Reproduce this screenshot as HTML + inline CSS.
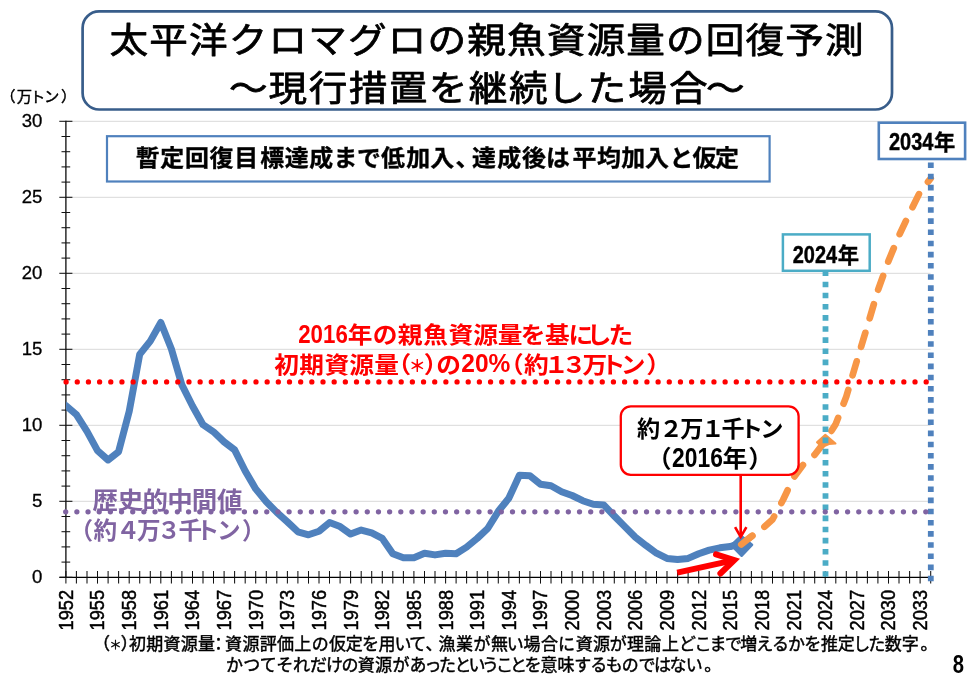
<!DOCTYPE html>
<html lang="ja">
<head>
<meta charset="utf-8">
<title>太平洋クロマグロの親魚資源量の回復予測</title>
<style>
html,body{margin:0;padding:0;background:#fff;}
body{width:974px;height:679px;overflow:hidden;}
svg{display:block;}
text{font-family:"Liberation Sans","Noto Sans CJK JP",sans-serif;}
</style>
</head>
<body>
<svg width="974" height="679" viewBox="0 0 974 679">
<rect x="0" y="0" width="974" height="679" fill="#ffffff"/>

<g stroke="#d9d9d9" stroke-width="1" fill="none">
<line x1="66" y1="501.3" x2="930.5" y2="501.3"/>
<line x1="66" y1="425.3" x2="930.5" y2="425.3"/>
<line x1="66" y1="349.3" x2="930.5" y2="349.3"/>
<line x1="66" y1="273.3" x2="930.5" y2="273.3"/>
<line x1="66" y1="197.3" x2="930.5" y2="197.3"/>
<line x1="66" y1="121.3" x2="930.5" y2="121.3"/>
</g>
<g stroke="#000" stroke-width="1.25" fill="none">
<line x1="65.9" y1="120.8" x2="65.9" y2="577.8"/>
<line x1="59.5" y1="577.3" x2="931" y2="577.3"/>
</g>
<g stroke="#111" stroke-width="1.05" fill="none">
<line x1="59.3" y1="577.3" x2="72.4" y2="577.3"/>
<line x1="61.5" y1="562.1" x2="70.2" y2="562.1"/>
<line x1="61.5" y1="546.9" x2="70.2" y2="546.9"/>
<line x1="61.5" y1="531.7" x2="70.2" y2="531.7"/>
<line x1="61.5" y1="516.5" x2="70.2" y2="516.5"/>
<line x1="59.3" y1="501.3" x2="72.4" y2="501.3"/>
<line x1="61.5" y1="486.1" x2="70.2" y2="486.1"/>
<line x1="61.5" y1="470.9" x2="70.2" y2="470.9"/>
<line x1="61.5" y1="455.7" x2="70.2" y2="455.7"/>
<line x1="61.5" y1="440.5" x2="70.2" y2="440.5"/>
<line x1="59.3" y1="425.3" x2="72.4" y2="425.3"/>
<line x1="61.5" y1="410.1" x2="70.2" y2="410.1"/>
<line x1="61.5" y1="394.9" x2="70.2" y2="394.9"/>
<line x1="61.5" y1="379.7" x2="70.2" y2="379.7"/>
<line x1="61.5" y1="364.5" x2="70.2" y2="364.5"/>
<line x1="59.3" y1="349.3" x2="72.4" y2="349.3"/>
<line x1="61.5" y1="334.1" x2="70.2" y2="334.1"/>
<line x1="61.5" y1="318.9" x2="70.2" y2="318.9"/>
<line x1="61.5" y1="303.7" x2="70.2" y2="303.7"/>
<line x1="61.5" y1="288.5" x2="70.2" y2="288.5"/>
<line x1="59.3" y1="273.3" x2="72.4" y2="273.3"/>
<line x1="61.5" y1="258.1" x2="70.2" y2="258.1"/>
<line x1="61.5" y1="242.9" x2="70.2" y2="242.9"/>
<line x1="61.5" y1="227.7" x2="70.2" y2="227.7"/>
<line x1="61.5" y1="212.5" x2="70.2" y2="212.5"/>
<line x1="59.3" y1="197.3" x2="72.4" y2="197.3"/>
<line x1="61.5" y1="182.1" x2="70.2" y2="182.1"/>
<line x1="61.5" y1="166.9" x2="70.2" y2="166.9"/>
<line x1="61.5" y1="151.7" x2="70.2" y2="151.7"/>
<line x1="61.5" y1="136.5" x2="70.2" y2="136.5"/>
<line x1="59.3" y1="121.3" x2="72.4" y2="121.3"/>
<line x1="65.9" y1="571" x2="65.9" y2="583.6"/>
<line x1="76.4" y1="571" x2="76.4" y2="583.6"/>
<line x1="87.0" y1="571" x2="87.0" y2="583.6"/>
<line x1="97.5" y1="571" x2="97.5" y2="583.6"/>
<line x1="108.1" y1="571" x2="108.1" y2="583.6"/>
<line x1="118.6" y1="571" x2="118.6" y2="583.6"/>
<line x1="129.2" y1="571" x2="129.2" y2="583.6"/>
<line x1="139.7" y1="571" x2="139.7" y2="583.6"/>
<line x1="150.3" y1="571" x2="150.3" y2="583.6"/>
<line x1="160.8" y1="571" x2="160.8" y2="583.6"/>
<line x1="171.4" y1="571" x2="171.4" y2="583.6"/>
<line x1="181.9" y1="571" x2="181.9" y2="583.6"/>
<line x1="192.5" y1="571" x2="192.5" y2="583.6"/>
<line x1="203.0" y1="571" x2="203.0" y2="583.6"/>
<line x1="213.5" y1="571" x2="213.5" y2="583.6"/>
<line x1="224.1" y1="571" x2="224.1" y2="583.6"/>
<line x1="234.6" y1="571" x2="234.6" y2="583.6"/>
<line x1="245.2" y1="571" x2="245.2" y2="583.6"/>
<line x1="255.7" y1="571" x2="255.7" y2="583.6"/>
<line x1="266.3" y1="571" x2="266.3" y2="583.6"/>
<line x1="276.8" y1="571" x2="276.8" y2="583.6"/>
<line x1="287.4" y1="571" x2="287.4" y2="583.6"/>
<line x1="297.9" y1="571" x2="297.9" y2="583.6"/>
<line x1="308.5" y1="571" x2="308.5" y2="583.6"/>
<line x1="319.0" y1="571" x2="319.0" y2="583.6"/>
<line x1="329.5" y1="571" x2="329.5" y2="583.6"/>
<line x1="340.1" y1="571" x2="340.1" y2="583.6"/>
<line x1="350.6" y1="571" x2="350.6" y2="583.6"/>
<line x1="361.2" y1="571" x2="361.2" y2="583.6"/>
<line x1="371.7" y1="571" x2="371.7" y2="583.6"/>
<line x1="382.3" y1="571" x2="382.3" y2="583.6"/>
<line x1="392.8" y1="571" x2="392.8" y2="583.6"/>
<line x1="403.4" y1="571" x2="403.4" y2="583.6"/>
<line x1="413.9" y1="571" x2="413.9" y2="583.6"/>
<line x1="424.5" y1="571" x2="424.5" y2="583.6"/>
<line x1="435.0" y1="571" x2="435.0" y2="583.6"/>
<line x1="445.6" y1="571" x2="445.6" y2="583.6"/>
<line x1="456.1" y1="571" x2="456.1" y2="583.6"/>
<line x1="466.6" y1="571" x2="466.6" y2="583.6"/>
<line x1="477.2" y1="571" x2="477.2" y2="583.6"/>
<line x1="487.7" y1="571" x2="487.7" y2="583.6"/>
<line x1="498.3" y1="571" x2="498.3" y2="583.6"/>
<line x1="508.8" y1="571" x2="508.8" y2="583.6"/>
<line x1="519.4" y1="571" x2="519.4" y2="583.6"/>
<line x1="529.9" y1="571" x2="529.9" y2="583.6"/>
<line x1="540.5" y1="571" x2="540.5" y2="583.6"/>
<line x1="551.0" y1="571" x2="551.0" y2="583.6"/>
<line x1="561.6" y1="571" x2="561.6" y2="583.6"/>
<line x1="572.1" y1="571" x2="572.1" y2="583.6"/>
<line x1="582.7" y1="571" x2="582.7" y2="583.6"/>
<line x1="593.2" y1="571" x2="593.2" y2="583.6"/>
<line x1="603.7" y1="571" x2="603.7" y2="583.6"/>
<line x1="614.3" y1="571" x2="614.3" y2="583.6"/>
<line x1="624.8" y1="571" x2="624.8" y2="583.6"/>
<line x1="635.4" y1="571" x2="635.4" y2="583.6"/>
<line x1="645.9" y1="571" x2="645.9" y2="583.6"/>
<line x1="656.5" y1="571" x2="656.5" y2="583.6"/>
<line x1="667.0" y1="571" x2="667.0" y2="583.6"/>
<line x1="677.6" y1="571" x2="677.6" y2="583.6"/>
<line x1="688.1" y1="571" x2="688.1" y2="583.6"/>
<line x1="698.7" y1="571" x2="698.7" y2="583.6"/>
<line x1="709.2" y1="571" x2="709.2" y2="583.6"/>
<line x1="719.8" y1="571" x2="719.8" y2="583.6"/>
<line x1="730.3" y1="571" x2="730.3" y2="583.6"/>
<line x1="740.8" y1="571" x2="740.8" y2="583.6"/>
<line x1="751.4" y1="571" x2="751.4" y2="583.6"/>
<line x1="761.9" y1="571" x2="761.9" y2="583.6"/>
<line x1="772.5" y1="571" x2="772.5" y2="583.6"/>
<line x1="783.0" y1="571" x2="783.0" y2="583.6"/>
<line x1="793.6" y1="571" x2="793.6" y2="583.6"/>
<line x1="804.1" y1="571" x2="804.1" y2="583.6"/>
<line x1="814.7" y1="571" x2="814.7" y2="583.6"/>
<line x1="825.2" y1="571" x2="825.2" y2="583.6"/>
<line x1="835.8" y1="571" x2="835.8" y2="583.6"/>
<line x1="846.3" y1="571" x2="846.3" y2="583.6"/>
<line x1="856.8" y1="571" x2="856.8" y2="583.6"/>
<line x1="867.4" y1="571" x2="867.4" y2="583.6"/>
<line x1="877.9" y1="571" x2="877.9" y2="583.6"/>
<line x1="888.5" y1="571" x2="888.5" y2="583.6"/>
<line x1="899.0" y1="571" x2="899.0" y2="583.6"/>
<line x1="909.6" y1="571" x2="909.6" y2="583.6"/>
<line x1="920.1" y1="571" x2="920.1" y2="583.6"/>
<line x1="930.7" y1="571" x2="930.7" y2="583.6"/>
</g>
<g font-size="18.6" text-anchor="end" fill="#000" stroke="#000" stroke-width="0.3">
<text x="42.4" y="583.3">0</text>
<text x="42.4" y="507.3">5</text>
<text x="42.4" y="431.3">10</text>
<text x="42.4" y="355.3">15</text>
<text x="42.4" y="279.3">20</text>
<text x="42.4" y="203.3">25</text>
<text x="42.4" y="127.3">30</text>
</g>
<g font-size="18.2" fill="#000" stroke="#000" stroke-width="0.45">
<text transform="translate(72.8,630.4) rotate(-90) scale(1,1.07)">1952</text>
<text transform="translate(104.4,630.4) rotate(-90) scale(1,1.07)">1955</text>
<text transform="translate(136.1,630.4) rotate(-90) scale(1,1.07)">1958</text>
<text transform="translate(167.7,630.4) rotate(-90) scale(1,1.07)">1961</text>
<text transform="translate(199.4,630.4) rotate(-90) scale(1,1.07)">1964</text>
<text transform="translate(231.0,630.4) rotate(-90) scale(1,1.07)">1967</text>
<text transform="translate(262.6,630.4) rotate(-90) scale(1,1.07)">1970</text>
<text transform="translate(294.3,630.4) rotate(-90) scale(1,1.07)">1973</text>
<text transform="translate(325.9,630.4) rotate(-90) scale(1,1.07)">1976</text>
<text transform="translate(357.5,630.4) rotate(-90) scale(1,1.07)">1979</text>
<text transform="translate(389.2,630.4) rotate(-90) scale(1,1.07)">1982</text>
<text transform="translate(420.8,630.4) rotate(-90) scale(1,1.07)">1985</text>
<text transform="translate(452.5,630.4) rotate(-90) scale(1,1.07)">1988</text>
<text transform="translate(484.1,630.4) rotate(-90) scale(1,1.07)">1991</text>
<text transform="translate(515.7,630.4) rotate(-90) scale(1,1.07)">1994</text>
<text transform="translate(547.4,630.4) rotate(-90) scale(1,1.07)">1997</text>
<text transform="translate(579.0,630.4) rotate(-90) scale(1,1.07)">2000</text>
<text transform="translate(610.6,630.4) rotate(-90) scale(1,1.07)">2003</text>
<text transform="translate(642.3,630.4) rotate(-90) scale(1,1.07)">2006</text>
<text transform="translate(673.9,630.4) rotate(-90) scale(1,1.07)">2009</text>
<text transform="translate(705.6,630.4) rotate(-90) scale(1,1.07)">2012</text>
<text transform="translate(737.2,630.4) rotate(-90) scale(1,1.07)">2015</text>
<text transform="translate(768.8,630.4) rotate(-90) scale(1,1.07)">2018</text>
<text transform="translate(800.5,630.4) rotate(-90) scale(1,1.07)">2021</text>
<text transform="translate(832.1,630.4) rotate(-90) scale(1,1.07)">2024</text>
<text transform="translate(863.7,630.4) rotate(-90) scale(1,1.07)">2027</text>
<text transform="translate(895.4,630.4) rotate(-90) scale(1,1.07)">2030</text>
<text transform="translate(927.0,630.4) rotate(-90) scale(1,1.07)">2033</text>
</g>
<text transform="translate(0,102.2) scale(1.03,1.0)" x="7.69 23.69 36.50 50.29 66.58" font-size="14.9" font-weight="400" fill="#000" text-anchor="middle" stroke="#000" stroke-width="0.4">（万トン）</text>
<polyline points="740.8,544.5 751.4,536.5 761.9,529.0 772.5,519.5 783.0,500.0 793.6,477.5 804.1,463.5 814.7,454.8 825.2,441.0" fill="none" stroke="#f79646" stroke-width="6.7" stroke-linejoin="round" stroke-linecap="round" stroke-dasharray="14.2 15.4"/>
<polyline points="930.7,178.5 920.1,191.8 909.6,213.1 899.0,235.5 888.5,260.9 877.9,290.4 867.4,326.0 856.8,361.0 846.3,396.6 835.8,423.9 825.2,441.0" fill="none" stroke="#f79646" stroke-width="6.7" stroke-linejoin="round" stroke-linecap="round" stroke-dasharray="14.6 15.2" stroke-dashoffset="10.2"/>
<polygon points="825.3,434.8 835.5,443.6 829,444 822,447 817,442.2" fill="#f79646" stroke="#f79646" stroke-width="2" stroke-linejoin="round"/>
<line x1="825.5" y1="270.5" x2="825.5" y2="578.6" stroke="#4bacc6" stroke-width="5.8" stroke-dasharray="5.57 5.57"/>
<line x1="930.8" y1="162.5" x2="930.8" y2="581.4" stroke="#4f81bd" stroke-width="5.8" stroke-dasharray="5.58 5.59"/>
<clipPath id="plotclip"><rect x="65.9" y="100" width="880" height="480"/></clipPath>
<polyline clip-path="url(#plotclip)" points="55.4,398.5 65.9,405.6 76.4,414.6 87.0,431.3 97.5,450.7 108.1,460.0 118.6,451.7 129.2,411.4 139.7,354.4 150.3,341.1 160.8,322.5 171.4,349.0 181.9,384.9 192.5,406.0 203.0,424.7 213.5,431.8 224.1,441.9 234.6,449.9 245.2,471.0 255.7,488.9 266.3,501.8 276.8,512.4 287.4,521.9 297.9,531.8 308.5,534.8 319.0,531.3 329.5,522.6 340.1,526.6 350.6,534.1 361.2,530.1 371.7,532.9 382.3,538.4 392.8,553.7 403.4,557.7 413.9,557.7 424.5,553.2 435.0,554.9 445.6,553.2 456.1,553.7 466.6,547.1 477.2,538.4 487.7,528.5 498.3,511.3 508.8,498.3 519.4,475.2 529.9,475.7 540.5,484.2 551.0,485.8 561.6,491.7 572.1,495.5 582.7,500.7 593.2,504.2 603.7,504.9 614.3,516.0 624.8,526.6 635.4,537.2 645.9,545.4 656.5,553.2 667.0,558.4 677.6,559.6 688.1,558.4 698.7,553.7 709.2,550.1 719.8,547.8 730.3,546.6 737,544.4" fill="none" stroke="#4f81bd" stroke-width="7" stroke-linejoin="round" stroke-linecap="butt"/>
<polygon points="741.1,536.2 751.8,544.8 741.6,555.4 731.6,545.3" fill="#4f81bd" stroke="#4f81bd" stroke-width="3" stroke-linejoin="round"/>
<line x1="66.1" y1="381.9" x2="930" y2="381.9" stroke="#ff0000" stroke-width="5.3" stroke-linecap="round" stroke-dasharray="0 11.17"/>
<line x1="741.3" y1="544.5" x2="752.3" y2="535.7" stroke="#f79646" stroke-width="6.7" stroke-linecap="round"/>
<g stroke="#ff0000" stroke-width="6" fill="none" stroke-linecap="butt" stroke-linejoin="miter">
<line x1="677.2" y1="572.6" x2="734.3" y2="560.1"/>
<polyline points="716,554.3 734.3,560.1 720.4,573.5" stroke-linecap="round" stroke-miterlimit="10"/>
</g>
<rect x="620.8" y="406.3" width="177.8" height="68.5" rx="10" ry="10" fill="#fff" stroke="#ff0000" stroke-width="2.3"/>
<g stroke="#ff0000" stroke-width="2.6" fill="none"><line x1="740.7" y1="475" x2="740.7" y2="536"/><polyline points="735.1,527.2 740.7,537 746.4,527.2" stroke-linejoin="miter"/></g>
<text transform="translate(0,436.8) scale(1.03,1.0)" x="629.61 651.46 671.65 692.04 711.75 729.61 749.42" font-size="22.5" font-weight="700" fill="#000" text-anchor="middle" >約２万１千トン</text>
<text transform="translate(0,467.4) scale(1.03,1.0)" x="639.90" font-size="24.2" font-weight="700" fill="#000" text-anchor="middle" >（</text><text transform="translate(0,467.0) scale(1.02,1.2)" x="683.82" font-size="22.4" font-weight="700" fill="#000" text-anchor="middle" >2016</text><text transform="translate(0,467.4) scale(1.03,1.0)" x="713.59 738.64" font-size="24.2" font-weight="700" fill="#000" text-anchor="middle" >年）</text>
<rect x="782.9" y="234.4" width="86.8" height="36.4" fill="#fff" stroke="#4bacc6" stroke-width="2.5"/>
<text transform="translate(0,262.5) scale(1.0,1.15)" x="814.90" font-size="20" font-weight="700" fill="#000" text-anchor="middle" stroke="#000" stroke-width="0.35">2024</text><text transform="translate(0,262.6) scale(1.0,1.0)" x="848.30" font-size="21.3" font-weight="700" fill="#000" text-anchor="middle" stroke="#000" stroke-width="0.35">年</text>
<rect x="878.8" y="122.7" width="86.3" height="36.3" fill="#fff" stroke="#4f81bd" stroke-width="2.6"/>
<text transform="translate(0,150.2) scale(1.0,1.15)" x="911.20" font-size="20" font-weight="700" fill="#000" text-anchor="middle" stroke="#000" stroke-width="0.35">2034</text><text transform="translate(0,150.3) scale(1.0,1.0)" x="944.60" font-size="21.3" font-weight="700" fill="#000" text-anchor="middle" stroke="#000" stroke-width="0.35">年</text>
<rect x="107" y="136.2" width="662.6" height="45.3" fill="#fff" stroke="#4f81bd" stroke-width="2.2"/>
<text transform="translate(0,166.0) scale(1.04,1.0)" x="142.02 165.67 189.33 212.98 236.63 261.73 285.38 308.85 332.21 354.81 377.88 402.21 425.29 449.40 465.38 489.62 513.46 536.54 561.92 585.58 608.85 631.73 655.19 677.40 699.13" font-size="23" font-weight="700" fill="#000" text-anchor="middle" stroke="#000" stroke-width="0.35">暫定回復目標達成まで低加入、達成後は平均加入と仮定</text>
<text transform="translate(0,343.4) scale(1.0,1.17)" x="323.00" font-size="22.3" font-weight="700" fill="#ff0000" text-anchor="middle" >2016</text><text transform="translate(0,343.2) scale(1.065,1.0)" x="338.22 361.50 385.16 409.01 432.68 455.96 479.06 500.66 523.29 545.45 562.44 583.00" font-size="23.2" font-weight="700" fill="#ff0000" text-anchor="middle" >年の親魚資源量を基にした</text>
<text transform="translate(0,372.5) scale(1.065,1.0)" x="269.11 292.58 316.24 339.53 362.91 374.52" font-size="23.2" font-weight="700" fill="#ff0000" text-anchor="middle" >初期資源量（</text><text transform="translate(0,372.1) scale(1.0,1.0)" x="417.20" font-size="17" font-weight="700" fill="#ff0000" text-anchor="middle" >＊</text><text transform="translate(0,372.5) scale(1.065,1.0)" x="409.42 421.31" font-size="23.2" font-weight="700" fill="#ff0000" text-anchor="middle" >）の</text><text transform="translate(0,372.0) scale(1.1,1.17)" x="441.64" font-size="22.3" font-weight="700" fill="#ff0000" text-anchor="middle" >20%</text><text transform="translate(0,372.5) scale(1.065,1.0)" x="480.25 503.57 522.35 538.97 558.59 575.68 594.37 618.34" font-size="23.2" font-weight="700" fill="#ff0000" text-anchor="middle" >（約１３万トン）</text>
<text transform="translate(0,508.9) scale(1.08,1.0)" x="97.50 120.93 143.70 166.57 189.35 212.78" font-size="23.6" font-weight="700" fill="#8064a2" text-anchor="middle" >歴史的中間値</text>
<text transform="translate(0,538.8) scale(1.0,1.0)" x="81.30 105.30 128.10 148.70 169.10 190.30 207.50 228.70 253.70" font-size="23.6" font-weight="700" fill="#8064a2" text-anchor="middle" >（約４万３千トン）</text>
<line x1="65.7" y1="511.8" x2="930" y2="511.8" stroke="#8064a2" stroke-width="5.3" stroke-linecap="round" stroke-dasharray="0 11.17"/>
<rect x="82.6" y="11.4" width="809.4" height="98.1" rx="16.5" ry="16.5" fill="#fff" stroke="#385d8a" stroke-width="2.7"/>
<text transform="translate(0,52.75) scale(1.03,0.945)" x="125.15 163.73 202.31 240.89 279.48 318.06 356.64 395.22 433.81 472.39 510.97 549.55 588.14 626.72 665.30 703.88 742.47 781.05 819.63" font-size="37.5" font-weight="400" fill="#000" text-anchor="middle" stroke="#000" stroke-width="0.8" stroke-linejoin="round">太平洋クロマグロの親魚資源量の回復予測</text>
<text transform="translate(0,101.3) scale(1.03,0.945)" x="241.07 279.51 318.40 357.28 396.17 435.05 473.93 512.82 549.90 589.22 628.64 668.16 704.17" font-size="37.5" font-weight="400" fill="#000" text-anchor="middle" stroke="#000" stroke-width="0.8" stroke-linejoin="round">～現行措置を継続した場合～</text>
<text transform="translate(0,649.6) scale(1.0,1.0)" x="101.61" font-size="17" font-weight="400" fill="#000" text-anchor="middle" stroke="#000" stroke-width="0.45">（</text><text transform="translate(0,649.6) scale(1.0,1.0)" x="115.40" font-size="12" font-weight="400" fill="#000" text-anchor="middle" stroke="#000" stroke-width="0.45">＊</text><text transform="translate(0,649.6) scale(1.0,1.0)" x="129.19 137.50 154.80 172.00 189.30 206.50 218.60 233.50 251.10 268.30 285.60 302.80 320.30 337.50 354.20 370.60 387.10 402.90 417.70 434.10 447.00 464.60 482.10 499.40 515.20 532.00 549.60 566.50 584.20 601.40 618.30 635.60 652.80 670.50 687.60 703.00 718.00 733.50 748.80 764.80 780.60 796.50 812.70 829.50 846.30 861.70 876.80 893.20 910.20 929.10" font-size="17" font-weight="400" fill="#000" text-anchor="middle" stroke="#000" stroke-width="0.45">）初期資源量：資源評価上の仮定を用いて、漁業が無い場合に資源が理論上どこまで増えるかを推定した数字。</text>
<text transform="translate(0,670.5) scale(1.0,1.0)" x="234.40 251.70 268.30 284.70 301.40 318.60 334.40 349.90 366.20 383.40 401.00 417.90 433.10 447.50 463.00 477.00 490.50 504.50 518.50 533.00 548.90 566.00 582.80 598.80 614.20 630.20 647.10 662.50 678.00 694.30 712.80" font-size="17" font-weight="400" fill="#000" text-anchor="middle" stroke="#000" stroke-width="0.45">かつてそれだけの資源があったということを意味するものではない。</text>
<text transform="translate(958.4,673.3) scale(0.92,1.13)" text-anchor="middle" font-size="22" font-weight="700" fill="#000">8</text>
</svg>
</body>
</html>
